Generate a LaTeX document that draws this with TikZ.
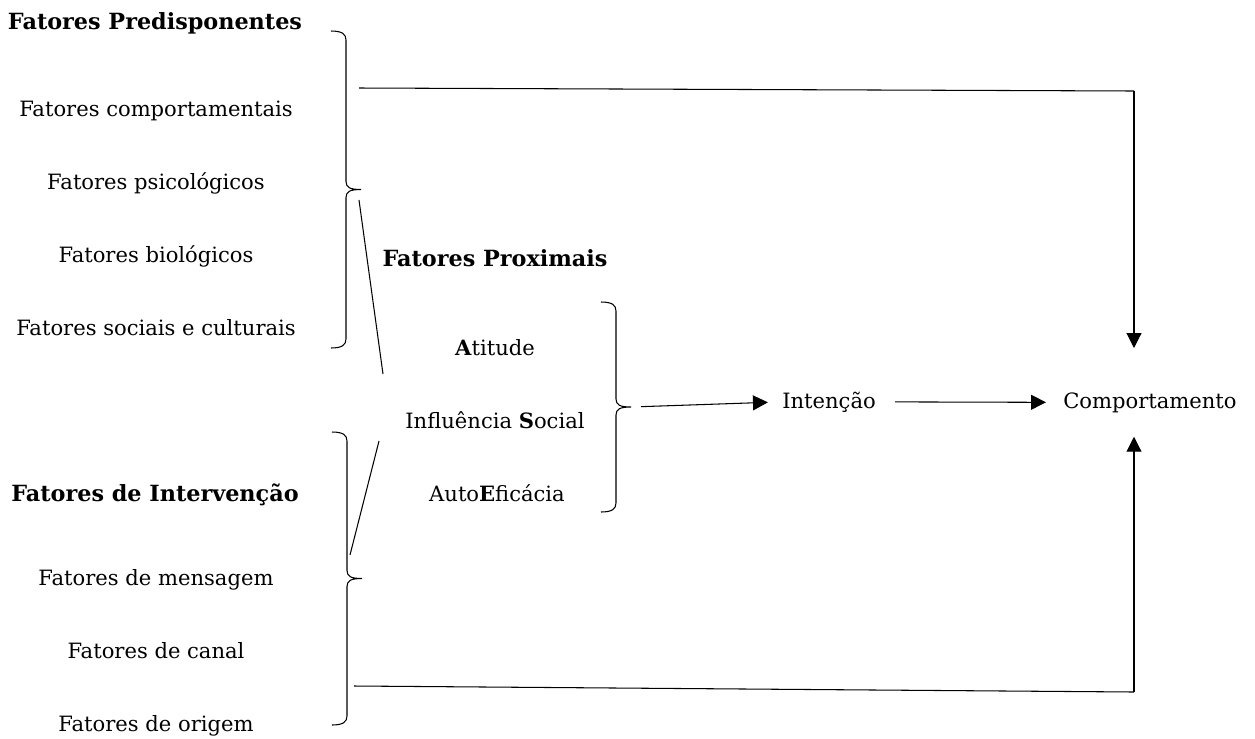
\documentclass[tikz,border=0pt]{standalone}
\usepackage{fontspec}
\setmainfont{DejaVu Serif}
\usetikzlibrary{arrows.meta}

% chave: nome da ponta, x da ponta solta, y de cima, y de baixo
\newcommand{\chave}[4]{%
  \pgfmathsetmacro{\chavemeio}{(#3+#4)/2}
  \draw[linha] (#2,#3) .. controls ({#2+11},#3) and ({#2+15},{#3+3}) .. ({#2+15},{#3+9})
    -- ({#2+15},{\chavemeio-8}) .. controls ({#2+15},{\chavemeio-2}) and ({#2+19},\chavemeio) .. ({#2+30},\chavemeio)
    .. controls ({#2+19},\chavemeio) and ({#2+15},{\chavemeio+2}) .. ({#2+15},{\chavemeio+8})
    -- ({#2+15},{#4-9}) .. controls ({#2+15},{#4-3}) and ({#2+11},#4) .. (#2,#4);
  \coordinate (#1) at ({#2+30},\chavemeio);
}

\begin{document}
\begin{tikzpicture}[x=0.02cm,y=-0.02cm,
        linha/.style={line width=0.6pt},
        seta/.style={line width=0.6pt,-{Triangle[length=8.5pt,width=8.5pt]}},
        texto/.style={anchor=base,inner sep=0pt,font=\fontsize{12}{14}\selectfont},
        titulo/.style={anchor=base,inner sep=0pt,font=\fontsize{12.7}{15}\selectfont\bfseries}]
        \useasboundingbox (0,0) rectangle (1255,738);

        % predisponentes
        \node[titulo] (pred) at (155,29) {Fatores Predisponentes};
        \node[texto] (comportamentais) at (156,116) {Fatores comportamentais};
        \node[texto] (psicologicos) at (156,189) {Fatores psicológicos};
        \node[texto] (biologicos) at (156,262) {Fatores biológicos};
        \node[texto] (sociais) at (156,335) {Fatores sociais e culturais};

        % intervencao
        \node[titulo] (interv) at (155,501) {Fatores de Intervenção};
        \node[texto] (mensagem) at (156,585) {Fatores de mensagem};
        \node[texto] (canal) at (156,658) {Fatores de canal};
        \node[texto] (origem) at (156,731) {Fatores de origem};

        % proximais
        \node[titulo] (prox) at (495,266) {Fatores Proximais};
        \node[texto] (atitude) at (495,355) {\textbf{A}titude};
        \node[texto] (influencia) at (495,428) {Influência \textbf{S}ocial};
        \node[texto] (eficacia) at (497,501) {Auto\textbf{E}ficácia};

        \node[texto] (intencao) at (829,408) {Intenção};
        \node[texto] (comp) at (1150,408) {Comportamento};

        \chave{chavePred}{331}{31}{348}
        \chave{chaveInterv}{332}{432}{725}
        \chave{chaveProx}{601}{302}{512}

        \coordinate (diagA1) at (359,200);
        \coordinate (diagA2) at (383,374);
        \coordinate (diagB1) at (379,441);
        \coordinate (diagB2) at (350,555);
        \draw[linha] (diagA1) -- (diagA2);
        \draw[linha] (diagB1) -- (diagB2);

        \coordinate (predIni) at (359,88);
        \coordinate (predCanto) at (1134,91);
        \coordinate (intervIni) at (354,686);
        \coordinate (intervCanto) at (1134,692);
        \draw[linha] (predIni) -- (predCanto);
        \draw[seta,shorten >=0.88cm] (predCanto) -- (predCanto |- comp.north);
        \draw[linha] (intervIni) -- (intervCanto);
        \draw[seta,shorten >=0.48cm] (intervCanto) -- (intervCanto |- comp.south);

        \draw[seta,shorten <=0.2cm,shorten >=0.28cm] (chaveProx) -- (intencao.west);
        \draw[seta,shorten <=0.38cm,shorten >=0.34cm] (intencao.east) -- (comp.west);
    \end{tikzpicture}
\end{document}
